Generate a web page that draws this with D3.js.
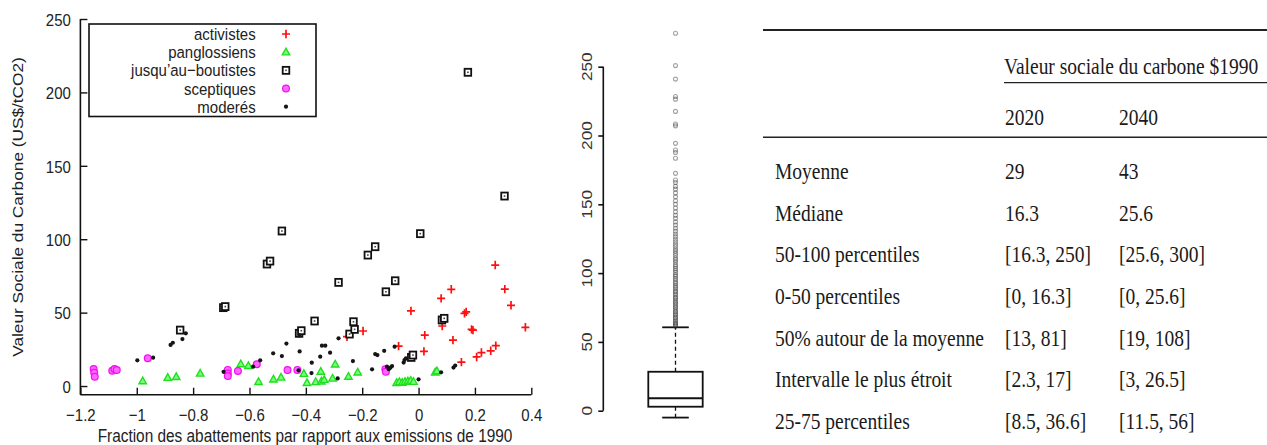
<!DOCTYPE html>
<html>
<head>
<meta charset="utf-8">
<script src="https://cdn.jsdelivr.net/npm/d3@7"></script>
<style>
  body { margin: 0; background: #fff; }
  svg { display: block; }
  .sans { font-family: "Liberation Sans", Arial, sans-serif; fill: #222; }
  .serif { font-family: "Liberation Serif", "Times New Roman", serif; fill: #1a1a1a; }
</style>
</head>
<body>
<div class="chartBox"></div>
<script>
// scatter series: [fraction of abatement vs 1990, social cost of carbon]
var activistes = [[-0.254, 33.6], [-0.197, 37.5], [-0.071, 27.2], [-0.027, 51.2], [0.019, 23.6], [0.022, 34.7],
  [0.08, 59.7], [0.084, 40.9], [0.116, 65.9], [0.122, 31.3], [0.152, 16.3], [0.163, 49.5], [0.169, 50.5],
  [0.188, 38.6], [0.193, 38.1], [0.206, 19.8], [0.223, 22.8], [0.256, 24], [0.274, 27.5], [0.272, 82.4],
  [0.306, 66], [0.328, 55], [0.379, 40]];
var panglossiens = [[-0.979, 3.4], [-0.89, 5.7], [-0.86, 6.3], [-0.775, 8.6], [-0.631, 15], [-0.604, 13.8],
  [-0.568, 2.9], [-0.515, 4.6], [-0.488, 5.9], [-0.407, 8.4], [-0.396, 2.2], [-0.365, 2.8], [-0.345, 3.2],
  [-0.347, 9.9], [-0.335, 4.3], [-0.305, 5.2], [-0.296, 14.8], [-0.249, 6.5], [-0.216, 9.4], [-0.078, 2.2],
  [-0.068, 2.8], [-0.058, 2.4], [-0.048, 3.0], [-0.038, 3.3], [-0.028, 3.8], [-0.018, 3.0], [0.059, 9.4],
  [0.065, 10.2]];
var boutistes = [[-0.846, 38.1], [-0.693, 53.4], [-0.686, 54.1], [-0.538, 83.1], [-0.527, 85.1], [-0.485, 105.6],
  [-0.424, 35.9], [-0.416, 37.7], [-0.369, 44.3], [-0.284, 70.6], [-0.245, 35.4], [-0.227, 38.6], [-0.231, 43.8],
  [-0.18, 89.2], [-0.154, 94.9], [-0.116, 64.2], [-0.083, 71.7], [-0.026, 19.5], [-0.02, 21.1], [0.006, 103.8],
  [0.083, 45], [0.091, 46.1], [0.175, 213.7], [0.305, 129.4]];
var sceptiques = [[-1.153, 11.6], [-1.151, 9], [-1.149, 6.3], [-1.087, 10.4], [-1.079, 11.6], [-1.071, 10.9],
  [-0.961, 18.9], [-0.677, 11], [-0.677, 8.5], [-0.677, 6.8], [-0.641, 10.2], [-0.574, 14.8], [-0.465, 10.9],
  [-0.43, 11], [-0.118, 11.4], [-0.116, 9.8]];
var moderes = [[-0.998, 17.5], [-0.942, 19.3], [-0.88, 28], [-0.872, 29.5], [-0.838, 32], [-0.826, 35.9],
  [-0.692, 9.7], [-0.587, 13.2], [-0.562, 17.5], [-0.516, 22.3], [-0.485, 20.4], [-0.469, 28.9], [-0.423, 34.5],
  [-0.422, 23.6], [-0.426, 10.7], [-0.38, 8.8], [-0.379, 15.9], [-0.349, 20], [-0.343, 27.5], [-0.331, 27.5],
  [-0.314, 22.7], [-0.287, 5.2], [-0.284, 32.5], [-0.233, 17], [-0.165, 11.4], [-0.154, 21.8], [-0.146, 21.1],
  [-0.122, 24], [-0.112, 13.2], [-0.106, 11.5], [-0.1, 12.5], [-0.094, 13.6], [-0.085, 26.8], [-0.053, 16],
  [-0.05, 17.7], [-0.045, 18.9], [0, 4.6], [0.08, 9.4], [0.124, 12.6], [0.13, 14]];

var categories = ['activistes', 'panglossiens', 'jusqu\u2019au\u2212boutistes', 'sceptiques', 'moder\u00e9s'];
var xTicks = [-1.2, -1, -0.8, -0.6, -0.4, -0.2, 0, 0.2, 0.4];
var yTicks = [0, 50, 100, 150, 200, 250];

// boxplot: lower whisker, q1, median, q3, upper whisker
var boxStats = [-5, 2.9, 9, 28.3, 60.6];
var boxOutliers = [61.5, 62.4, 63.1, 64, 65.2, 66.1, 67.3, 68, 69.4, 70.2, 71.5, 72.3, 73.6, 74.8, 75.5, 76.9,
  78.1, 79, 80.2, 81.6, 82.4, 83.9, 85, 86.3, 87.1, 88.6, 89.8, 91, 92.4, 93.5, 95, 96.2, 97.8, 99, 100.5, 102,
  103.4, 105, 106.3, 108, 109.6, 111, 112.8, 114.3, 116, 117.5, 119.3, 121, 122.8, 124.6, 126.5, 128.4, 130.5,
  132.6, 135, 137.2, 139.8, 142, 144.5, 147.3, 150, 152.6, 155.4, 158.3, 161, 163, 165.8, 167.7, 172.5, 183.5,
  187.6, 189.5, 194.3, 207, 208.4, 217.5, 226.4, 228.3, 241, 250.8, 274.3];
var boxTicks = [0, 50, 100, 150, 200, 250];

// table
var tableTitle = 'Valeur sociale du carbone $1990';
var years = ['2020', '2040'];
var rowLabels = ['Moyenne', 'M\u00e9diane', '50-100 percentiles', '0-50 percentiles', '50% autour de la moyenne',
  'Intervalle le plus \u00e9troit', '25-75 percentiles'];
var col2020 = ['29', '16.3', '[16.3, 250]', '[0, 16.3]', '[13, 81]', '[2.3, 17]', '[8.5, 36.6]'];
var col2040 = ['43', '25.6', '[25.6, 300]', '[0, 25.6]', '[19, 108]', '[3, 26.5]', '[11.5, 56]'];

var w = 1267, h = 445;
var SY = 1.15; // the source picture is stretched a bit vertically

var svg = d3.select('div.chartBox').append('svg')
  .attr('width', w)
  .attr('height', h);

function label(parent, x, y, txt, cls, size, anchor, rot) {
  return parent.append('text')
    .attr('class', cls)
    .attr('transform', 'translate(' + x + ',' + y + ') scale(1,' + SY + ')' + (rot ? ' rotate(' + rot + ')' : ''))
    .attr('text-anchor', anchor || 'start')
    .style('font-size', size + 'px')
    .text(txt);
}

// ---------- scatter ----------
var x = d3.scaleLinear().domain([-1.2, 0.4]).range([80.4, 531.3]);
var y = d3.scaleLinear().domain([-5.9, 250]).range([394.7, 19]);

var sc = svg.append('g');

var xAxis = sc.append('g')
  .attr('transform', 'translate(0,' + y(-5.9) + ')')
  .call(d3.axisBottom(x).tickValues(xTicks).tickSize(-7).tickFormat(d3.format('~g')));
xAxis.selectAll('text')
  .attr('y', null).attr('dy', null)
  .attr('class', 'sans')
  .attr('transform', 'translate(0,26) scale(1,' + SY + ')')
  .style('font-size', '15px');

var yAxis = sc.append('g')
  .attr('transform', 'translate(' + x(-1.2) + ',0)')
  .call(d3.axisLeft(y).tickValues(yTicks).tickSize(-7));
yAxis.selectAll('text')
  .attr('x', null).attr('dy', '0.36em')
  .attr('class', 'sans')
  .attr('transform', 'translate(-9.5,0) scale(1,' + SY + ')')
  .style('font-size', '15px');

[xAxis, yAxis].forEach(function(a) {
  a.select('.domain').attr('stroke', '#111').attr('stroke-width', 1.6);
  a.selectAll('.tick line').attr('stroke', '#111').attr('stroke-width', 1.4);
});
// plain lines, no end caps on the domain
xAxis.select('.domain').attr('d', 'M' + x(-1.2) + ',0H' + x(0.4));
yAxis.select('.domain').attr('d', 'M0,' + y(250) + 'V' + y(-5.9));

label(sc, 18, 207, 'Valeur Sociale du Carbone (US$/tCO2)', 'sans', 15, 'middle', -90).attr('dy', '0.35em');
label(sc, 305, 441.5, 'Fraction des abattements par rapport aux emissions de 1990', 'sans', 15.4, 'middle');

// markers
function plus(g) {
  g.append('path').attr('d', 'M-4,0H4M0,-4.2V4.2')
    .attr('stroke', '#ff1010').attr('stroke-width', 1.7).attr('fill', 'none');
}
function tri(g) {
  g.append('path').attr('d', 'M0,-3.9L3.7,2.7H-3.7Z')
    .attr('fill', '#7cff7c').attr('stroke', '#1ee01e').attr('stroke-width', 1.4);
}
function square(g) {
  g.append('rect').attr('x', -3.3).attr('y', -3.5).attr('width', 6.6).attr('height', 7)
    .attr('fill', '#fff').attr('stroke', '#111').attr('stroke-width', 1.8);
  g.append('rect').attr('x', -0.8).attr('y', -0.8).attr('width', 1.6).attr('height', 1.6).attr('fill', '#444');
}
function circ(g) {
  g.append('circle').attr('r', 3.4).attr('fill', '#ff66ff').attr('stroke', '#f010f0').attr('stroke-width', 1.2);
}
function dot(g) {
  g.append('circle').attr('r', 2.1).attr('fill', '#151515');
}
var markers = [plus, tri, square, circ, dot];
var series = [activistes, panglossiens, boutistes, sceptiques, moderes];

series.forEach(function(data, i) {
  sc.append('g').selectAll('g')
    .data(data)
    .enter()
    .append('g')
    .attr('transform', function(d) { return 'translate(' + x(d[0]) + ',' + y(d[1]) + ')'; })
    .each(function() { markers[i](d3.select(this)); });
});

// legend
var leg = sc.append('g');
leg.append('rect')
  .attr('x', 89).attr('y', 24).attr('width', 227).attr('height', 92.5)
  .attr('fill', '#fff').attr('stroke', '#111').attr('stroke-width', 1.6);
var legY = d3.scalePoint().domain(categories).range([34, 106.7]);
categories.forEach(function(c, i) {
  label(leg, 255.7, legY(c), c, 'sans', 15, 'end').attr('dy', '0.35em');
  var g = leg.append('g').attr('transform', 'translate(286,' + legY(c) + ')');
  markers[i](g);
});

// ---------- boxplot ----------
var yB = d3.scaleLinear().domain([0, 250]).range([410.7, 66.7]);
var bx = 675.5, bw = 54.4, cw = 26.6;
var bp = svg.append('g');

var bAxis = bp.append('g')
  .attr('transform', 'translate(603.3,0)')
  .call(d3.axisLeft(yB).tickValues(boxTicks).tickSize(5).tickFormat(''));
bAxis.select('.domain').attr('d', 'M0,' + yB(250) + 'V' + yB(0)).attr('stroke', '#111').attr('stroke-width', 1.6);
bAxis.selectAll('.tick line').attr('stroke', '#111').attr('stroke-width', 1.6);
boxTicks.forEach(function(t) {
  label(bp, 586.5, yB(t), String(t), 'sans', 15, 'middle', -90).attr('dy', '0.35em').style('fill', '#333');
});

// whiskers (dashed)
bp.append('line')
  .attr('x1', bx).attr('x2', bx).attr('y1', yB(boxStats[3])).attr('y2', yB(boxStats[4]))
  .attr('stroke', '#111').attr('stroke-width', 1.3).attr('stroke-dasharray', '4,3');
bp.append('line')
  .attr('x1', bx).attr('x2', bx).attr('y1', yB(boxStats[1])).attr('y2', yB(boxStats[0]))
  .attr('stroke', '#111').attr('stroke-width', 1.3).attr('stroke-dasharray', '4,3');
[boxStats[0], boxStats[4]].forEach(function(v) {
  bp.append('line')
    .attr('x1', bx - cw / 2).attr('x2', bx + cw / 2).attr('y1', yB(v)).attr('y2', yB(v))
    .attr('stroke', '#111').attr('stroke-width', 1.8);
});
bp.append('rect')
  .attr('x', bx - bw / 2).attr('width', bw)
  .attr('y', yB(boxStats[3])).attr('height', yB(boxStats[1]) - yB(boxStats[3]))
  .attr('fill', 'none').attr('stroke', '#111').attr('stroke-width', 1.8);
bp.append('line')
  .attr('x1', bx - bw / 2).attr('x2', bx + bw / 2).attr('y1', yB(boxStats[2])).attr('y2', yB(boxStats[2]))
  .attr('stroke', '#111').attr('stroke-width', 2);

bp.selectAll('circle.out')
  .data(boxOutliers)
  .enter()
  .append('circle')
  .attr('class', 'out')
  .attr('cx', bx)
  .attr('cy', function(d) { return yB(d); })
  .attr('r', 2)
  .attr('fill', 'none')
  .attr('stroke', '#333')
  .attr('stroke-opacity', 0.45)
  .attr('stroke-width', 1.1);

// ---------- table ----------
var tb = svg.append('g');
var colX = d3.scalePoint().domain(years).range([1005, 1119]);
var rowY = d3.scalePoint().domain(rowLabels).range([171.7, 421.7]);

tb.append('line').attr('x1', 763).attr('x2', w).attr('y1', 30).attr('y2', 30)
  .attr('stroke', '#222').attr('stroke-width', 1.8);
label(tb, 1004, 66.7, tableTitle, 'serif', 19.5, 'start').attr('dy', '0.33em');
tb.append('line').attr('x1', 1004).attr('x2', w).attr('y1', 82.7).attr('y2', 82.7)
  .attr('stroke', '#222').attr('stroke-width', 1.3);
years.forEach(function(yr) {
  label(tb, colX(yr), 118, yr, 'serif', 19.5, 'start').attr('dy', '0.33em');
});
tb.append('line').attr('x1', 763).attr('x2', w).attr('y1', 137.3).attr('y2', 137.3)
  .attr('stroke', '#222').attr('stroke-width', 1.5);

rowLabels.forEach(function(r, i) {
  label(tb, 775, rowY(r), r, 'serif', 19.5, 'start').attr('dy', '0.33em');
  label(tb, colX('2020'), rowY(r), col2020[i], 'serif', 19.5, 'start').attr('dy', '0.33em');
  label(tb, colX('2040'), rowY(r), col2040[i], 'serif', 19.5, 'start').attr('dy', '0.33em');
});
</script>
</body>
</html>
